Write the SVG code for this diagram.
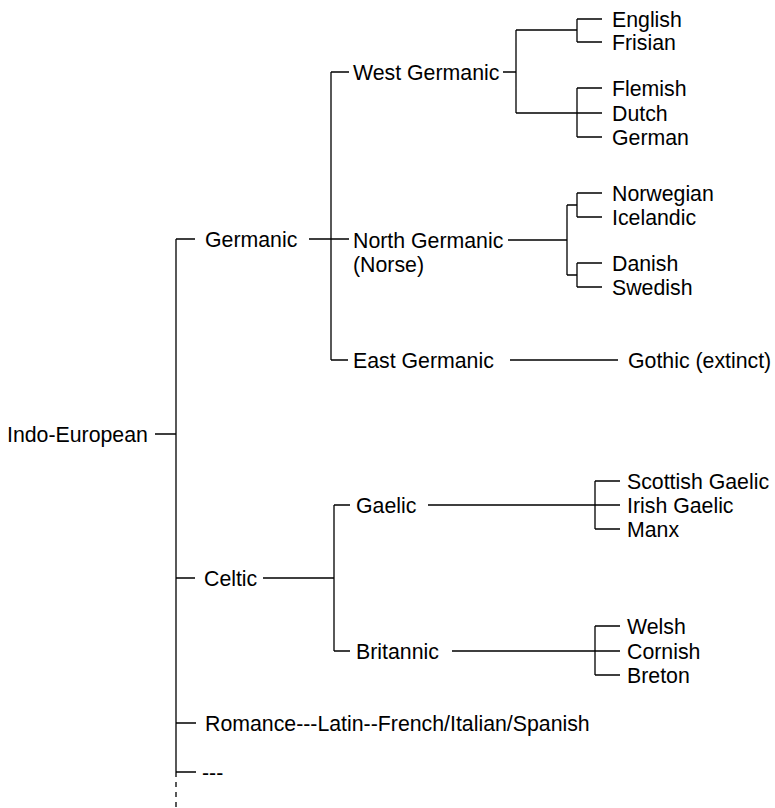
<svg xmlns="http://www.w3.org/2000/svg" width="775" height="808" viewBox="0 0 775 808">
<style>
text{font-family:"Liberation Sans",Arial,Helvetica,sans-serif;font-size:21.3px;fill:#000}
.c{fill:none;stroke:#000;stroke-width:1.3}
.d{fill:none;stroke:#000;stroke-width:1.3;stroke-dasharray:5 5}
</style>
<rect width="775" height="808" fill="#fff"/>
<g id="connectors">
<path class="c" d="M155 434H176M176 239V772M176 239H195M176 578H195M176 723H196M176 772H196"/>
<path class="d" d="M176 772V808"/>
<path class="c" d="M309 239H349M331 72V360M331 72H349M331 360H348"/>
<path class="c" d="M503 72H516M516 30V113M516 30H577M516 113H577M577 19V42M577 19H602M577 42H602M577 88V137M577 88H602M577 113H602M577 137H602"/>
<path class="c" d="M508 240H567M567 205V275M567 205H577M567 275H577M577 193V217M577 193H602M577 217H602M577 263V287M577 263H602M577 287H602"/>
<path class="c" d="M510 360H618"/>
<path class="c" d="M263 578H334M334 505V651M334 505H350M334 651H350"/>
<path class="c" d="M428 505H595M595 481V529M595 481H620M595 505H620M595 529H620"/>
<path class="c" d="M452 651H595M595 626V675M595 626H620M595 651H620M595 675H620"/>
</g>
<g id="indo-european"><text x="7" y="441.5">Indo-European</text></g>
<g id="germanic"><text x="205" y="246.5">Germanic</text></g>
<g id="celtic"><text x="204" y="585.5">Celtic</text></g>
<g id="romance"><text x="205" y="730.5">Romance---Latin--French/Italian/Spanish</text></g>
<g id="other"><text x="202" y="779.5">---</text></g>
<g id="west-germanic"><text x="353" y="79.5">West Germanic</text></g>
<g id="north-germanic"><text x="353" y="247.5">North Germanic</text><text x="353" y="271.5">(Norse)</text></g>
<g id="east-germanic"><text x="353" y="367.5">East Germanic</text></g>
<g id="english"><text x="612" y="26.5">English</text></g>
<g id="frisian"><text x="612" y="49.5">Frisian</text></g>
<g id="flemish"><text x="612" y="95.5">Flemish</text></g>
<g id="dutch"><text x="612" y="120.5">Dutch</text></g>
<g id="german"><text x="612" y="144.5">German</text></g>
<g id="norwegian"><text x="612" y="200.5">Norwegian</text></g>
<g id="icelandic"><text x="612" y="224.5">Icelandic</text></g>
<g id="danish"><text x="612" y="270.5">Danish</text></g>
<g id="swedish"><text x="612" y="294.5">Swedish</text></g>
<g id="gothic"><text x="628" y="367.5">Gothic (extinct)</text></g>
<g id="gaelic"><text x="356" y="512.5">Gaelic</text></g>
<g id="britannic"><text x="356" y="658.5">Britannic</text></g>
<g id="scottish-gaelic"><text x="627" y="488.5">Scottish Gaelic</text></g>
<g id="irish-gaelic"><text x="627" y="512.5">Irish Gaelic</text></g>
<g id="manx"><text x="627" y="536.5">Manx</text></g>
<g id="welsh"><text x="627" y="633.5">Welsh</text></g>
<g id="cornish"><text x="627" y="658.5">Cornish</text></g>
<g id="breton"><text x="627" y="682.5">Breton</text></g>
</svg>
